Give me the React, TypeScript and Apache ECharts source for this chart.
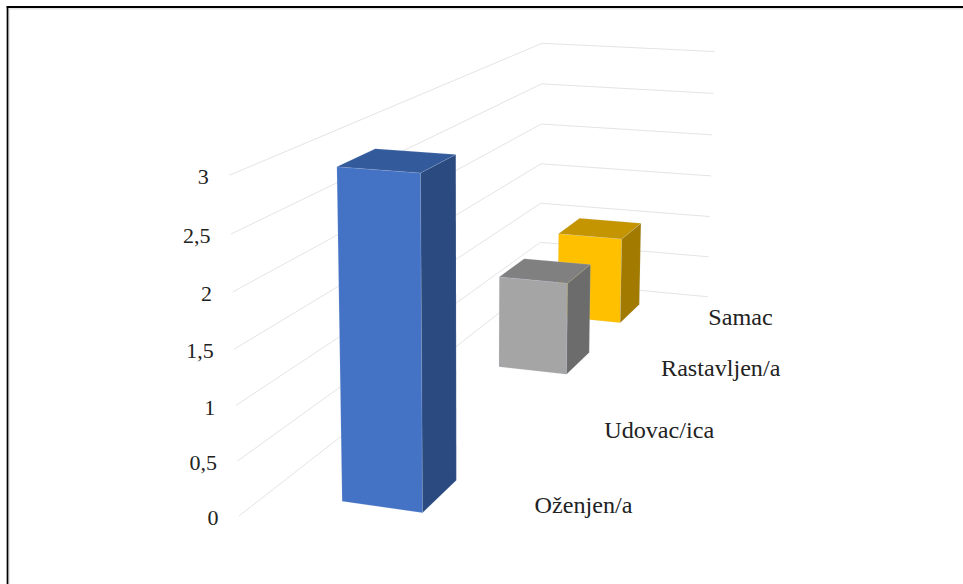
import React, { useEffect, useRef } from "react";
import * as echarts from "echarts";

const categories = ["Oženjen/a", "Udovac/ica", "Rastavljen/a", "Samac"];
const values = [3, 0, 1, 1];
const barColors = [
  { front: "#4472c4", side: "#2b4a80", top: "#335a9a" },
  { front: "#ed7d31", side: "#9b5220", top: "#bd6427" },
  { front: "#a5a5a5", side: "#6c6c6c", top: "#808080" },
  { front: "#ffc000", side: "#a27a00", top: "#c49500" },
];
const valueTicks = [0, 0.5, 1, 1.5, 2, 2.5, 3];
const valueTickLabels = ["0", "0,5", "1", "1,5", "2", "2,5", "3"];
const valueMax = 3;

// Homogeneous camera for the box: u runs along the wall, d runs into the
// depth of the chart, w is the value height. All three are in 0..1.
const CAM_O = [239, 516, 1];
const CAM_U = [211.5, 9.3, -0.0457];
const CAM_D = [547.1, -106.95, 0.4557];
const CAM_W = [-18.95, -347.77, -0.0403];

function project(u: number, d: number, w: number): [number, number] {
  const h = [0, 1, 2].map(
    (i) => CAM_O[i] + u * CAM_U[i] + d * CAM_D[i] + w * CAM_W[i]
  );
  return [h[0] / h[2], h[1] / h[2]];
}

// Bars occupy this span across the wall and this share of a category's depth.
const BAR_U = [0.325, 0.68];
const BAR_DEPTH_SHARE = 0.4;

// Reads depth and height out of the hidden cartesian scales.
function toUnit(api: any, cs: any, category: number, value: number) {
  const p = api.coord([category, value]);
  return {
    d: (p[0] - cs.x) / cs.width,
    w: (cs.y + cs.height - p[1]) / cs.height,
  };
}

function renderWalls(params: any, api: any) {
  const cs = params.coordSys;
  const p = api.coord([0, api.value(0)]);
  const w = (cs.y + cs.height - p[1]) / cs.height;
  return {
    type: "polyline",
    shape: { points: [project(0, 0, w), project(0, 1, w), project(1, 1, w)] },
    style: { fill: "none", stroke: "#e4e4e4", lineWidth: 1 },
    silent: true,
  };
}

function renderTickLabel(params: any, api: any) {
  const cs = params.coordSys;
  const p = api.coord([0, api.value(0)]);
  const w = (cs.y + cs.height - p[1]) / cs.height;
  const [x, y] = project(0, 0, w);
  return {
    type: "text",
    x: x - 20.5,
    y: y + 1.5,
    style: {
      text: valueTickLabels[params.dataIndex],
      fontFamily: "Liberation Serif",
      fontSize: 22,
      fill: "#222222",
      align: "right",
      verticalAlign: "middle",
    },
    silent: true,
  };
}

function renderBar(params: any, api: any) {
  const cs = params.coordSys;
  const idx = api.value(0);
  const val = api.value(1);
  if (val <= 0) return null;
  const base = toUnit(api, cs, idx, 0);
  const top = toUnit(api, cs, idx, val);
  const band = api.size([1, 0])[0] / cs.width;
  const d0 = base.d - (band * BAR_DEPTH_SHARE) / 2;
  const d1 = base.d + (band * BAR_DEPTH_SHARE) / 2;
  const [u0, u1] = BAR_U;
  const c = barColors[idx];
  const stroke = { stroke: "rgba(200,215,240,0.3)", lineWidth: 0.5 };
  return {
    type: "group",
    silent: true,
    children: [
      {
        type: "polygon",
        shape: {
          points: [
            project(u0, d0, base.w),
            project(u1, d0, base.w),
            project(u1, d0, top.w),
            project(u0, d0, top.w),
          ],
        },
        style: { fill: c.front, ...stroke },
      },
      {
        type: "polygon",
        shape: {
          points: [
            project(u1, d0, base.w),
            project(u1, d1, base.w),
            project(u1, d1, top.w),
            project(u1, d0, top.w),
          ],
        },
        style: { fill: c.side, ...stroke },
      },
      {
        type: "polygon",
        shape: {
          points: [
            project(u0, d0, top.w),
            project(u1, d0, top.w),
            project(u1, d1, top.w),
            project(u0, d1, top.w),
          ],
        },
        style: { fill: c.top, ...stroke },
      },
    ],
  };
}

function renderCategoryLabel(params: any, api: any) {
  const cs = params.coordSys;
  const idx = api.value(0);
  const { d } = toUnit(api, cs, idx, 0);
  const [x, y] = project(1, d, 0);
  return {
    type: "text",
    x: x + 21.5,
    y: y - 1.5,
    scaleX: 1.05,
    style: {
      text: categories[idx],
      fontFamily: "Liberation Serif",
      fontSize: 23,
      fill: "#222222",
      align: "left",
      verticalAlign: "middle",
    },
    silent: true,
  };
}

export default function App() {
  const ref = useRef<HTMLDivElement>(null);
  useEffect(() => {
    const chart = echarts.init(ref.current!, undefined, { renderer: "svg" });
    const indexed = categories.map((_, i) => [i, values[i]]);
    chart.setOption({
      animation: false,
      backgroundColor: "#ffffff",
      grid: { left: 100, top: 50, width: 700, height: 450 },
      xAxis: { type: "category", data: categories, show: false },
      yAxis: { type: "value", min: 0, max: valueMax, interval: 0.5, show: false },
      graphic: [
        { type: "line", shape: { x1: 9.6, y1: 8.7, x2: 963, y2: 8.7 }, style: { stroke: "#e4e4e4", lineWidth: 1.4 } },
        { type: "line", shape: { x1: 9, y1: 8, x2: 9, y2: 584 }, style: { stroke: "#e4e4e4", lineWidth: 1.6 } },
        { type: "line", shape: { x1: 6.7, y1: 7, x2: 963, y2: 7 }, style: { stroke: "#000000", lineWidth: 2 } },
        { type: "line", shape: { x1: 7.5, y1: 6, x2: 7.5, y2: 584 }, style: { stroke: "#000000", lineWidth: 1.7 } },
      ],
      series: [
        {
          type: "custom",
          coordinateSystem: "cartesian2d",
          renderItem: renderWalls,
          data: valueTicks.map((t) => [t]),
          encode: { y: 0 },
          z: 1,
        },
        {
          type: "custom",
          coordinateSystem: "cartesian2d",
          renderItem: renderTickLabel,
          data: valueTicks.map((t) => [t]),
          encode: { y: 0 },
          z: 2,
        },
        {
          // Painted from the back of the box to the front.
          type: "custom",
          coordinateSystem: "cartesian2d",
          renderItem: renderBar,
          data: [...indexed].reverse(),
          encode: { x: 0, y: 1 },
          z: 3,
        },
        {
          type: "custom",
          coordinateSystem: "cartesian2d",
          renderItem: renderCategoryLabel,
          data: indexed,
          encode: { x: 0, y: 1 },
          z: 4,
        },
      ],
    });
    return () => chart.dispose();
  }, []);
  return (
    <div
      ref={ref}
      style={{ position: "fixed", left: 0, top: 0, width: 963, height: 584 }}
    />
  );
}
